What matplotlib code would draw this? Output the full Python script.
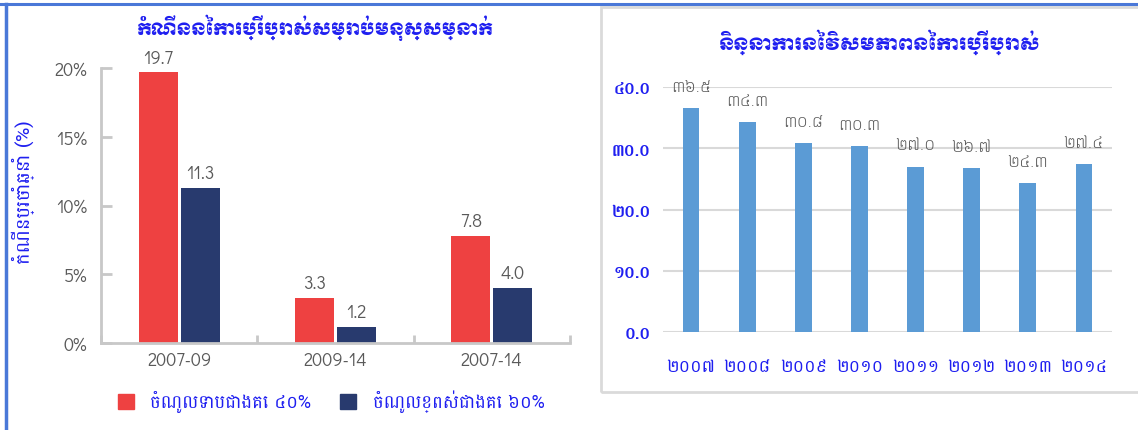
import matplotlib
matplotlib.use("Agg")
import matplotlib.pyplot as plt
from matplotlib.lines import Line2D
from matplotlib.patches import Rectangle, Patch
import numpy as np

# --- left chart data ---
periods = ["2007-09", "2009-14", "2007-14"]
bottom40 = [19.7, 3.3, 7.8]
top60 = [11.3, 1.2, 4.0]
left_title = "កំណើននៃការប្រើប្រាស់សម្រាប់មនុស្សម្នាក់"
left_ylabel = "កំណើនប្រចាំឆ្នាំ (%)"
legend_labels = ["ចំណូលទាបជាងគេ ៤០%", "ចំណូលខ្ពស់ជាងគេ ៦០%"]

# --- right chart data ---
years_km = ["២០០៧", "២០០៨", "២០០៩", "២០១០", "២០១១", "២០១២", "២០១៣", "២០១៤"]
gini = [36.5, 34.3, 30.8, 30.3, 27.0, 26.7, 24.3, 27.4]
gini_km = ["៣៦.៥", "៣៤.៣", "៣០.៨", "៣០.៣", "២៧.០", "២៦.៧", "២៤.៣", "២៧.៤"]
right_yticks = [0, 10, 20, 30, 40]
right_yticks_km = ["០.០", "១០.០", "២០.០", "៣០.០", "៤០.០"]
right_title = "និន្នាការនៃវិសមភាពនៃការប្រើប្រាស់"

RED = "#EE4141"
NAVY = "#283A6E"
BLUE_BAR = "#5B9BD5"
TXT_BLUE = "#1F1FF0"
GREY_TXT = "#595959"
AX_GREY = "#C8C8C8"
NUMFONT = ["Didact Gothic", "Questrial", "Lato", "DejaVu Sans"]
KH_TITLE = ["Moul", "DejaVu Sans"]
KH_TEXT = ["Battambang", "DejaVu Sans"]

W, H = 1138, 431
fig = plt.figure(figsize=(W / 100, H / 100), dpi=100)

def fx(px):
    return px / W

def fy(py):
    return 1 - py / H

# panel frames
fig.add_artist(Line2D([0, 1], [fy(5), fy(5)], color="#4A78D8", lw=2.2))
fig.add_artist(Line2D([fx(6), fx(6)], [0, fy(5)], color="#4A78D8", lw=2.5))
fig.add_artist(Rectangle((fx(601), fy(393)), 1 - fx(601) + 0.01, fy(8) - fy(393),
                         transform=fig.transFigure, fill=False, ec="#DADADA", lw=2))

# ---------- left chart ----------
ax = fig.add_axes([fx(101), fy(344), fx(570) - fx(101), fy(69) - fy(344)])
x = np.arange(len(periods))
bw = 0.25
off = 0.135
b1 = ax.bar(x - off, bottom40, bw, color=RED)
b2 = ax.bar(x + off, top60, bw, color=NAVY)
for rects, vals in ((b1, bottom40), (b2, top60)):
    for r, v in zip(rects, vals):
        ax.annotate(f"{v:.1f}", (r.get_x() + r.get_width() / 2, v),
                    xytext=(0, 4), textcoords="offset points", ha="center", va="bottom",
                    color=GREY_TXT, fontsize=13, family=NUMFONT)
ax.set_xlim(-0.5, 2.5)
ax.set_ylim(0, 20)
ax.set_yticks([0, 5, 10, 15, 20])
ax.set_yticklabels([f"{t}%" for t in [0, 5, 10, 15, 20]], family=NUMFONT, fontsize=13, color=GREY_TXT)
ax.set_xticks([-0.5, 0.5, 1.5, 2.5])
ax.set_xticklabels([])
ax.set_xticks(x, minor=True)
ax.set_xticklabels(periods, minor=True, family=NUMFONT, fontsize=13, color=GREY_TXT)
ax.tick_params(axis="x", which="minor", length=0, pad=6)
ax.tick_params(axis="x", which="major", direction="in", length=6, width=2, color=AX_GREY)
ax.tick_params(axis="y", direction="in", length=8, width=2, color=AX_GREY, pad=10)
for s in ("top", "right"):
    ax.spines[s].set_visible(False)
for s in ("left", "bottom"):
    ax.spines[s].set_color(AX_GREY)
    ax.spines[s].set_linewidth(2)
ax.set_ylabel(left_ylabel, family=KH_TEXT, fontsize=14, color=TXT_BLUE)
axw = fx(570) - fx(101)
ax.yaxis.set_label_coords((fx(35) - fx(101)) / axw, 0.55)
fig.text(fx(315), fy(28), left_title, ha="center", va="center", family=KH_TITLE,
         fontsize=12, color=TXT_BLUE)
handles = [Patch(color=RED), Patch(color=NAVY)]
leg = fig.legend(handles, legend_labels, loc="center", bbox_to_anchor=(fx(331), fy(402)),
                 ncol=2, frameon=False, handlelength=0.9, handleheight=0.9,
                 columnspacing=1.6, handletextpad=0.9,
                 prop={"family": KH_TEXT, "size": 13})
for t in leg.get_texts():
    t.set_color(TXT_BLUE)

# ---------- right chart ----------
ax2 = fig.add_axes([fx(663), fy(333), fx(1112) - fx(663), fy(88) - fy(333)])
xr = np.arange(len(years_km))
bars = ax2.bar(xr, gini, 0.3, color=BLUE_BAR, zorder=2)
for r, lab in zip(bars, gini_km):
    ax2.annotate(lab, (r.get_x() + r.get_width() / 2, r.get_height()),
                 xytext=(0, 16), textcoords="offset points", ha="center", va="center",
                 color=GREY_TXT, fontsize=11.5, family=KH_TEXT, fontweight="light")
ax2.set_xlim(-0.5, len(years_km) - 0.5)
ax2.set_ylim(0, 40)
ax2.set_yticks(right_yticks)
ax2.set_yticklabels(right_yticks_km, family=KH_TEXT, fontsize=12, fontweight="bold", color=TXT_BLUE)
ax2.set_xticks(xr)
ax2.set_xticklabels(years_km, family=KH_TEXT, fontsize=12.5, color=TXT_BLUE)
ax2.tick_params(axis="x", length=0, pad=19)
ax2.tick_params(axis="y", length=0, pad=9)
ax2.grid(axis="y", color="#D9D9D9", lw=1.5, zorder=0)
for s in ax2.spines.values():
    s.set_visible(False)
fig.text(fx(880), fy(42), right_title, ha="center", va="center", family=KH_TITLE,
         fontsize=12.5, color=TXT_BLUE)

fig.savefig("out.png", dpi=100)
